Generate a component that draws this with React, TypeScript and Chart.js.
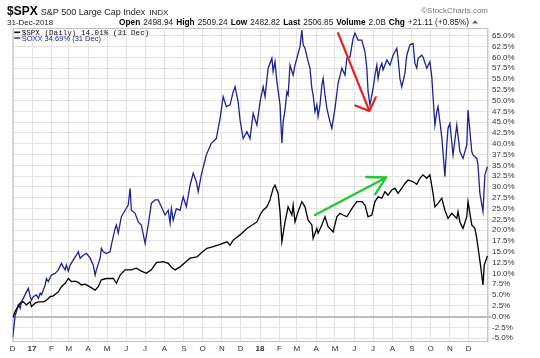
import { useEffect, useRef } from 'react';
import { Chart, registerables } from 'chart.js';

Chart.register(...registerables);

// ---------------- data ----------------
const spxDates = [
  '2016-12-01','2016-12-06','2016-12-13','2016-12-18','2016-12-23','2016-12-29','2016-12-31',
  '2017-01-06','2017-01-11','2017-01-19','2017-01-24','2017-01-30','2017-02-04','2017-02-12',
  '2017-02-17','2017-02-23','2017-02-28','2017-03-05','2017-03-11','2017-03-16','2017-03-21',
  '2017-03-27','2017-04-01','2017-04-12','2017-04-17','2017-04-22','2017-04-30','2017-05-11',
  '2017-05-16','2017-05-22','2017-05-30','2017-06-09','2017-06-17','2017-06-25','2017-07-03',
  '2017-07-11','2017-07-19','2017-07-30','2017-08-07','2017-08-13','2017-08-18','2017-08-26',
  '2017-09-03','2017-09-11','2017-09-22','2017-09-30','2017-10-08','2017-10-18','2017-10-29',
  '2017-11-09','2017-11-14','2017-11-19','2017-11-30','2017-12-11','2017-12-27','2018-01-01',
  '2018-01-06','2018-01-12','2018-01-17','2018-01-22','2018-01-25','2018-01-30','2018-02-02',
  '2018-02-05','2018-02-10','2018-02-15','2018-02-21','2018-02-23','2018-02-26','2018-03-03',
  '2018-03-09','2018-03-14','2018-03-19','2018-03-25','2018-03-27','2018-04-02','2018-04-04',
  '2018-04-10','2018-04-15','2018-04-20','2018-04-28','2018-05-04','2018-05-09','2018-05-14',
  '2018-05-20','2018-05-28','2018-06-05','2018-06-13','2018-06-18','2018-06-23','2018-06-29',
  '2018-07-04','2018-07-09','2018-07-15','2018-07-20','2018-07-25','2018-07-31','2018-08-05',
  '2018-08-10','2018-08-16','2018-08-21','2018-08-26','2018-09-03','2018-09-09','2018-09-14',
  '2018-09-19','2018-09-25','2018-09-30','2018-10-05','2018-10-08','2018-10-13','2018-10-19',
  '2018-10-24','2018-10-29','2018-11-04','2018-11-12','2018-11-14','2018-11-17','2018-11-22',
  '2018-11-28','2018-11-30','2018-12-06','2018-12-11','2018-12-14','2018-12-20','2018-12-24',
  '2018-12-26','2018-12-31',
];
const spxValues = [
  -0.3, 1.5, 3.1, 3.4, 2.7, 3.4, 2.3,
  3.1, 3.4, 3.4, 3.8, 4.6, 4.8, 5.7,
  6.9, 7.7, 8.8, 8.1, 8.2, 7.9, 7.3,
  7.5, 7.1, 6.1, 6.9, 8.5, 8.8, 8.8,
  7.7, 9.6, 10.8, 10.8, 11.2, 10.5, 10.0,
  10.8, 12.5, 12.7, 12.3, 11.3, 10.8, 11.5,
  12.5, 13.5, 13.8, 14.9, 15.8, 16.2, 16.7,
  17.3, 16.5, 17.7, 18.9, 20.4, 21.9, 23.5,
  24.6, 25.4, 27.0, 29.7, 30.4, 28.5, 24.3,
  17.3, 21.9, 25.4, 23.5, 25.8, 21.9, 24.3,
  26.6, 25.4, 22.3, 21.2, 18.1, 20.4, 19.3,
  21.2, 23.1, 20.8, 19.6, 23.1, 23.9, 23.5,
  23.1, 25.0, 26.6, 26.6, 25.8, 23.1, 23.5,
  26.6, 27.7, 27.4, 28.9, 28.1, 29.3, 29.7,
  28.5, 29.7, 30.8, 31.6, 31.2, 30.6, 32.0,
  32.8, 32.0, 32.8, 28.5, 25.4, 26.2, 27.4,
  24.6, 22.7, 23.9, 22.7, 24.3, 21.9, 20.4,
  23.1, 26.6, 21.2, 20.4, 18.1, 11.9, 7.3,
  11.9, 14.0,
];

const soxxDates = [
  '2016-12-01','2016-12-05','2016-12-07','2016-12-10','2016-12-13','2016-12-15','2016-12-18',
  '2016-12-23','2016-12-26','2016-12-29','2016-12-31','2017-01-03','2017-01-08','2017-01-11',
  '2017-01-14','2017-01-16','2017-01-22','2017-01-24','2017-01-27','2017-02-01','2017-02-07',
  '2017-02-12','2017-02-17','2017-02-20','2017-02-23','2017-02-25','2017-02-28','2017-03-03',
  '2017-03-08','2017-03-13','2017-03-16','2017-03-19','2017-03-24','2017-03-29','2017-04-04',
  '2017-04-09','2017-04-12','2017-04-14','2017-04-20','2017-04-22','2017-04-25','2017-04-30',
  '2017-05-06','2017-05-08','2017-05-14','2017-05-16','2017-05-19','2017-05-24','2017-05-30',
  '2017-06-04','2017-06-07','2017-06-09','2017-06-15','2017-06-20','2017-06-25','2017-07-01',
  '2017-07-06','2017-07-11','2017-07-17','2017-07-22','2017-07-27','2017-08-02','2017-08-07',
  '2017-08-10','2017-08-12','2017-08-15','2017-08-20','2017-08-26','2017-08-31','2017-09-05',
  '2017-09-11','2017-09-16','2017-09-21','2017-09-24','2017-09-29','2017-10-07','2017-10-15',
  '2017-10-23','2017-10-29','2017-11-03','2017-11-08','2017-11-14','2017-11-19','2017-11-22',
  '2017-11-27','2017-11-30','2017-12-05','2017-12-11','2017-12-16','2017-12-21','2017-12-27',
  '2018-01-01','2018-01-06','2018-01-09','2018-01-14','2018-01-20','2018-01-22','2018-01-25',
  '2018-01-28','2018-02-02','2018-02-05','2018-02-07','2018-02-10','2018-02-13','2018-02-15',
  '2018-02-18','2018-02-23','2018-02-26','2018-03-03','2018-03-06','2018-03-09','2018-03-11',
  '2018-03-14','2018-03-19','2018-03-22','2018-03-25','2018-03-27','2018-03-30','2018-04-02',
  '2018-04-04','2018-04-07','2018-04-10','2018-04-12','2018-04-15','2018-04-18','2018-04-23',
  '2018-04-26','2018-05-01','2018-05-06','2018-05-12','2018-05-17','2018-05-20','2018-05-25',
  '2018-05-30','2018-06-02','2018-06-07','2018-06-13','2018-06-18','2018-06-21','2018-06-23',
  '2018-06-26','2018-06-29','2018-07-01','2018-07-04','2018-07-07','2018-07-09','2018-07-12',
  '2018-07-15','2018-07-17','2018-07-23','2018-07-28','2018-08-02','2018-08-08','2018-08-10',
  '2018-08-13','2018-08-16','2018-08-21','2018-08-24','2018-08-29','2018-09-03','2018-09-06',
  '2018-09-09','2018-09-11','2018-09-17','2018-09-19','2018-09-25','2018-09-30','2018-10-03',
  '2018-10-05','2018-10-08','2018-10-11','2018-10-13','2018-10-19','2018-10-24','2018-10-27',
  '2018-10-29','2018-11-01','2018-11-06','2018-11-12','2018-11-17','2018-11-22','2018-11-28',
  '2018-11-30','2018-12-06','2018-12-08','2018-12-14','2018-12-16','2018-12-19','2018-12-24',
  '2018-12-27','2018-12-31',
];
const soxxValues = [
  -4.8, 0.3, 1.1, 2.7, 1.9, 3.4, 4.2,
  5.7, 6.5, 4.6, 3.8, 4.6, 5.0, 4.2,
  5.4, 5.0, 7.3, 8.8, 8.1, 9.6, 10.0,
  10.8, 12.3, 11.5, 10.8, 11.9, 10.5, 11.9,
  13.1, 14.2, 15.0, 13.5, 14.2, 14.6, 13.5,
  11.9, 9.6, 10.8, 13.5, 15.8, 15.0, 14.6,
  15.0, 16.6, 20.4, 21.2, 19.3, 23.1, 24.6,
  25.8, 29.7, 24.6, 23.9, 21.9, 21.2, 16.9,
  21.2, 26.2, 27.0, 27.0, 25.4, 23.5, 24.6,
  21.6, 25.0, 22.3, 25.0, 24.6, 27.7, 25.4,
  30.4, 33.2, 31.2, 28.9, 32.8, 37.4, 40.1,
  41.2, 45.9, 50.9, 48.6, 49.0, 52.0, 53.2,
  49.7, 45.5, 41.2, 42.8, 41.2, 47.0, 44.3,
  49.7, 53.2, 50.9, 57.5, 59.8, 56.7, 59.0,
  54.4, 49.0, 40.1, 45.1, 47.8, 52.0, 51.3,
  58.2, 55.9, 58.2, 60.9, 62.5, 66.3, 62.9,
  62.1, 59.0, 57.5, 52.8, 51.3, 47.4, 49.0,
  46.3, 49.0, 53.6, 55.1, 51.3, 48.2, 45.1,
  43.6, 48.2, 54.0, 57.5, 55.9, 59.8, 60.1,
  64.4, 65.6, 64.0, 64.0, 61.3, 57.5, 52.0,
  49.0, 51.3, 52.8, 55.9, 58.2, 55.1, 57.5,
  58.6, 57.1, 59.4, 58.2, 60.5, 62.1, 59.8,
  55.1, 53.2, 56.3, 60.5, 62.9, 63.2, 58.6,
  57.5, 59.8, 60.5, 60.1, 57.5, 59.0, 55.5,
  50.9, 44.3, 47.4, 48.6, 41.6, 32.4, 39.7,
  43.6, 44.7, 37.4, 44.3, 38.2, 36.6, 39.7,
  47.8, 38.2, 37.4, 36.6, 35.1, 28.5, 24.3,
  32.8, 34.7,
];

const monthStarts = [
  '2016-12-01','2017-01-01','2017-02-01','2017-03-01','2017-04-01','2017-05-01','2017-06-01',
  '2017-07-01','2017-08-01','2017-09-01','2017-10-01','2017-11-01','2017-12-01','2018-01-01',
  '2018-02-01','2018-03-01','2018-04-01','2018-05-01','2018-06-01','2018-07-01','2018-08-01',
  '2018-09-01','2018-10-01','2018-11-01','2018-12-01','2019-01-01',
];
const monthLabels = [
  'D','17','F','M','A','M','J','J','A','S','O','N','D','18',
  'F','M','A','M','J','J','A','S','O','N','D','',
];
const yTickValues = [
  -5, -2.5, 0, 2.5, 5, 7.5, 10, 12.5, 15, 17.5, 20, 22.5, 25, 27.5, 30, 32.5,
  35, 37.5, 40, 42.5, 45, 47.5, 50, 52.5, 55, 57.5, 60, 62.5, 65,
];

const symbol = '$SPX';
const indexName = 'S&P 500 Large Cap Index';
const exchange = 'INDX';
const dateLabel = '31-Dec-2018';
const quoteLabels = ['Open', 'High', 'Low', 'Last', 'Volume', 'Chg'];
const quoteValues = ['2498.94', '2509.24', '2482.82', '2506.85', '2.0B', '+21.11 (+0.85%)'];
const brand = '\u00A9StockCharts.com';
const legendSpx = '$SPX (Daily) 14.01% (31 Dec)';
const legendSoxx = 'SOXX 34.69% (31 Dec)';

const redArrowFrom: [string, number] = ['2018-05-06', 65.6];
const redArrowTo: [string, number] = ['2018-06-25', 47.6];
const greenArrowFrom: [string, number] = ['2018-03-30', 23.5];
const greenArrowTo: [string, number] = ['2018-07-22', 32.2];

// ---------------- helpers ----------------
const BASE = Date.UTC(2016, 11, 1);
const toDay = (s: string) => {
  const [y, m, d] = s.split('-').map(Number);
  return (Date.UTC(y, m - 1, d) - BASE) / 86400000;
};
const FONT = '"Liberation Sans", Arial, sans-serif';
const BLUE = '#1c2494';

function drawArrow(ctx: CanvasRenderingContext2D, x1: number, y1: number, x2: number, y2: number, len: number, angle: number) {
  const a = Math.atan2(y2 - y1, x2 - x1);
  ctx.beginPath();
  ctx.moveTo(x1, y1);
  ctx.lineTo(x2, y2);
  ctx.moveTo(x2 - len * Math.cos(a - angle), y2 - len * Math.sin(a - angle));
  ctx.lineTo(x2, y2);
  ctx.lineTo(x2 - len * Math.cos(a + angle), y2 - len * Math.sin(a + angle));
  ctx.stroke();
}

const decorPlugin = {
  id: 'decor',
  beforeDatasetsDraw(chart: any) {
    const { ctx, chartArea: a } = chart;
    ctx.save();
    ctx.strokeStyle = '#c4c4c4';
    ctx.lineWidth = 1;
    ctx.strokeRect(a.left + 0.5, a.top + 0.5, a.right - a.left - 1, a.bottom - a.top - 1);
    ctx.restore();
  },
  afterDatasetsDraw(chart: any) {
    const { ctx, chartArea: a, scales } = chart;
    const xs = scales.x;
    const ys = scales.y;
    ctx.save();
    ctx.lineCap = 'round';
    ctx.lineJoin = 'round';
    // arrows
    ctx.strokeStyle = '#ee1c1c';
    ctx.lineWidth = 2.2;
    drawArrow(
      ctx,
      xs.getPixelForValue(toDay(redArrowFrom[0])), ys.getPixelForValue(redArrowFrom[1]),
      xs.getPixelForValue(toDay(redArrowTo[0])), ys.getPixelForValue(redArrowTo[1]),
      15, (47 * Math.PI) / 180,
    );
    ctx.strokeStyle = '#22c832';
    ctx.lineWidth = 2.4;
    drawArrow(
      ctx,
      xs.getPixelForValue(toDay(greenArrowFrom[0])), ys.getPixelForValue(greenArrowFrom[1]),
      xs.getPixelForValue(toDay(greenArrowTo[0])), ys.getPixelForValue(greenArrowTo[1]),
      20, (29 * Math.PI) / 180,
    );

    // legend inside plot
    ctx.textAlign = 'left';
    ctx.textBaseline = 'alphabetic';
    ctx.fillStyle = '#111';
    ctx.fillRect(a.left + 1.5, 31.5, 6, 1.6);
    ctx.font = '7.6px "Liberation Mono", "DejaVu Sans Mono", monospace';
    ctx.fillText(legendSpx, a.left + 9, 34.5);
    ctx.fillStyle = BLUE;
    ctx.fillRect(a.left + 1.5, 37.3, 6, 1.4);
    ctx.font = '7.5px ' + FONT;
    ctx.fillText(legendSoxx, a.left + 9, 40.5);

    // header
    ctx.fillStyle = '#000';
    ctx.font = 'bold 12px ' + FONT;
    ctx.fillText(symbol, 7, 15);
    let x = 7 + ctx.measureText(symbol).width + 3;
    ctx.fillStyle = '#222';
    ctx.font = '9px ' + FONT;
    ctx.fillText(indexName, x, 15);
    x += ctx.measureText(indexName).width + 4;
    ctx.font = '8px ' + FONT;
    ctx.fillText(exchange, x, 15);
    ctx.fillText(dateLabel, 7, 24.5);

    ctx.fillStyle = '#777';
    ctx.textAlign = 'right';
    ctx.font = '8px ' + FONT;
    ctx.fillText(brand, a.right, 13);

    // quote line, right-aligned to plot edge
    ctx.textAlign = 'left';
    const bold = 'bold 8.3px ' + FONT;
    const reg = '8.3px ' + FONT;
    const gapLV = 3;
    const gapItem = 5;
    let total = 0;
    quoteLabels.forEach((l, i) => {
      ctx.font = bold;
      total += ctx.measureText(l).width + gapLV;
      ctx.font = reg;
      total += ctx.measureText(quoteValues[i]).width + gapItem;
    });
    const triW = 6;
    total += triW - 2;
    let qx = a.right - total;
    quoteLabels.forEach((l, i) => {
      ctx.fillStyle = '#000';
      ctx.font = bold;
      ctx.fillText(l, qx, 24.5);
      qx += ctx.measureText(l).width + gapLV;
      ctx.fillStyle = '#222';
      ctx.font = reg;
      ctx.fillText(quoteValues[i], qx, 24.5);
      qx += ctx.measureText(quoteValues[i]).width + gapItem - 2;
    });
    ctx.fillStyle = '#1a9a1a';
    ctx.beginPath();
    ctx.moveTo(qx, 23.5);
    ctx.lineTo(qx + triW, 23.5);
    ctx.lineTo(qx + triW / 2, 20);
    ctx.closePath();
    ctx.fill();
    ctx.restore();
  },
};

export default function App() {
  const ref = useRef<HTMLCanvasElement | null>(null);
  useEffect(() => {
    if (!ref.current) return;
    const chart = new Chart(ref.current, {
      type: 'line',
      data: {
        datasets: [
          {
            label: '$SPX',
            data: spxDates.map((d, i) => ({ x: toDay(d), y: spxValues[i] })),
            borderColor: '#000000',
            borderWidth: 1.3,
            pointRadius: 0,
            tension: 0,
            order: 0,
          },
          {
            label: 'SOXX',
            data: soxxDates.map((d, i) => ({ x: toDay(d), y: soxxValues[i] })),
            borderColor: BLUE,
            borderWidth: 1.3,
            pointRadius: 0,
            tension: 0,
            order: 1,
          },
        ],
      },
      options: {
        animation: false,
        responsive: false,
        maintainAspectRatio: false,
        layout: { padding: { left: 12.7, top: 28, right: 0, bottom: 0 } },
        plugins: { legend: { display: false }, tooltip: { enabled: false } },
        scales: {
          x: {
            type: 'linear',
            min: toDay(monthStarts[0]),
            max: toDay(monthStarts[monthStarts.length - 1]),
            afterBuildTicks: (s: any) => {
              s.ticks = monthStarts.map((d) => ({ value: toDay(d) }));
            },
            afterFit: (s: any) => {
              s.height = 16;
            },
            ticks: {
              autoSkip: false,
              maxRotation: 0,
              padding: 2,
              color: '#333',
              font: (c: any) => ({
                family: FONT,
                size: 8,
                weight: /^\d+$/.test(monthLabels[c.index] || '') ? 'bold' : 'normal',
              }),
              callback: (_v: any, i: number) => monthLabels[i],
            },
            grid: { color: '#e3e3e3', drawTicks: false, tickLength: 0 },
            border: { display: false },
          },
          y: {
            type: 'linear',
            position: 'right',
            min: -5.9,
            max: 66.8,
            afterBuildTicks: (s: any) => {
              s.ticks = yTickValues.map((v) => ({ value: v }));
            },
            afterFit: (s: any) => {
              s.width = 52;
            },
            ticks: {
              autoSkip: false,
              padding: 1,
              color: '#333',
              font: { family: FONT, size: 8 },
              callback: (v: any) => Number(v).toFixed(1) + '%',
            },
            grid: {
              color: (c: any) => (c.tick && c.tick.value === 0 ? '#bcbcbc' : '#e3e3e3'),
              lineWidth: (c: any) => (c.tick && c.tick.value === 0 ? 2 : 1),
              tickLength: 3,
            },
            border: { display: false },
          },
        },
      },
      plugins: [decorPlugin],
    });
    return () => chart.destroy();
  }, []);
  return (
    <div style={{ position: 'fixed', left: 0, top: 0, width: 540, height: 358, background: '#fff' }}>
      <canvas ref={ref} width={540} height={358} style={{ display: 'block' }} />
    </div>
  );
}
